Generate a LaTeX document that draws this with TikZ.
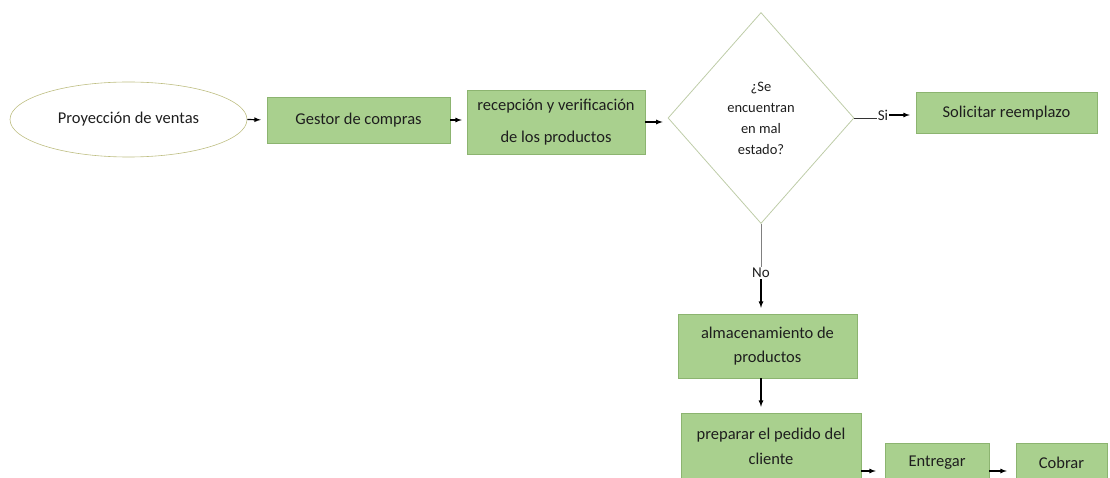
\documentclass[tikz,border=0pt]{standalone}
\usepackage{fontspec}
\setmainfont{Carlito}
\usetikzlibrary{shapes.geometric}

\definecolor{verdecaja}{RGB}{169,208,142}
\definecolor{bordecaja}{RGB}{140,180,112}
\definecolor{bordeovalo}{RGB}{190,190,130}
\definecolor{borderomb}{RGB}{190,204,168}
\definecolor{texto}{RGB}{30,30,30}

\tikzset{
	paso/.style={draw=bordecaja,fill=verdecaja,text=texto,align=center,inner sep=1pt,font=\fontsize{16.5}{24}\selectfont},
	flecha/.style={->,>=latex,line width=1.2pt,black,shorten >=6pt},
}

\begin{document}
\begin{tikzpicture}[x=1pt,y=-1pt]
	\useasboundingbox (0,0) rectangle (1110,478);
	
	%top row
	\node[ellipse,draw=bordeovalo,semithick,text=texto,minimum width=237pt,minimum height=75pt,font=\fontsize{16.5}{20}\selectfont] (proy) at (128.5,119.5) {Proyecci\'on de ventas};
	\node[paso,minimum width=183pt,minimum height=46pt] (gestor) at (358.5,120) {Gestor de compras};
	\node[paso,minimum width=178pt,minimum height=64pt,font=\fontsize{16.5}{32}\selectfont] (recep) at (556,122) {recepci\'on y verificaci\'on\\de los productos};
	\node[diamond,draw=borderomb,thick,text=texto,inner sep=0pt,minimum width=186pt,minimum height=211pt,align=center,font=\fontsize{14.5}{21}\selectfont] (dec) at (761,118) {¿Se\\encuentran\\en mal\\estado?};
	\node[paso,minimum width=181pt,minimum height=41pt] (solic) at (1006.5,113) {Solicitar reemplazo};
	
	%answers
	\node[text=texto,inner sep=1pt,font=\fontsize{15}{18}\selectfont] (si) at (883,115) {Si};
	\node[text=texto,inner sep=1pt,font=\fontsize{15}{18}\selectfont] (no) at (761,273) {No};
	
	%lower column and row
	\node[paso,minimum width=179pt,minimum height=64pt] (alma) at (767.5,346) {almacenamiento de\\productos};
	\node[paso,minimum width=180pt,minimum height=66pt,font=\fontsize{16.5}{25}\selectfont] (prep) at (771,446) {preparar el pedido del\\cliente};
	\node[paso,minimum width=104pt,minimum height=40pt] (entr) at (937,463) {Entregar};
	\node[paso,minimum width=91pt,minimum height=40pt] (cobr) at (1061.5,463) {Cobrar};
	
	%connectors
	\draw[flecha] (proy.east) -- (gestor.west);
	\draw[flecha,shorten >=5pt] (gestor.east) -- (recep.west |- gestor.east);
	\draw[flecha,shorten >=5pt] (recep.east) -- (dec.west |- recep.east);
	\draw[black!80,thick] (dec.east) -- (si.west |- dec.east);
	\draw[flecha] (si.east) -- (solic.west |- si.east);
	\draw[gray,thick] (dec.south) -- (no.north);
	\draw[flecha] (no.south) -- (no.south |- alma.north);
	\draw[flecha] (alma.south -| no.south) -- (no.south |- prep.north);
	\coordinate (entrin) at ([yshift=-8pt]entr.west);
	\draw[flecha,shorten >=9pt] (entrin -| prep.east) -- (entrin);
	\draw[flecha,shorten >=9pt] ([yshift=-8pt]entr.east) -- ([yshift=-8pt]cobr.west);
	
	%\draw[help lines] (0,0) grid (1110,478);
\end{tikzpicture}
\end{document}
